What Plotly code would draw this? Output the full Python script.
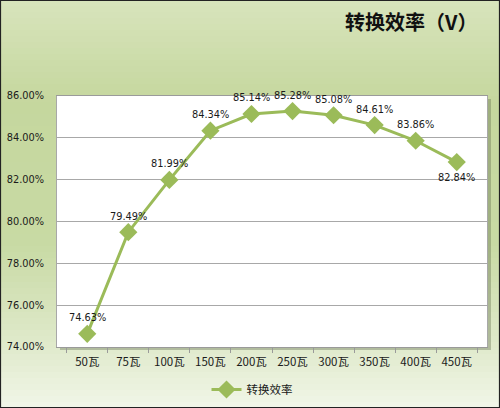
import plotly.graph_objects as go

# data
categories = ['50瓦', '75瓦', '100瓦', '150瓦', '200瓦', '250瓦', '300瓦', '350瓦', '400瓦', '450瓦']
efficiency = [0.7463, 0.7949, 0.8199, 0.8434, 0.8514, 0.8528, 0.8508, 0.8461, 0.8386, 0.8284]
label_below = [False] * 9 + [True]
series_name = '转换效率'
chart_title = '转换效率（V）'

W, H = 500, 408
ML, MR, MT, MB = 57, 13, 96, 61
PW, PH = W - ML - MR, H - MT - MB

font_cn = 'Noto Sans CJK SC'
font_num = 'DejaVu Sans'
green = '#9BBB59'


def px_x(p):
    return (p - ML) / PW


def px_y(p):
    return (H - MB - p) / PH


fig = go.Figure()
fig.add_trace(go.Scatter(
    x=categories, y=efficiency, name=series_name,
    mode='lines+markers',
    line=dict(color=green, width=3),
    marker=dict(symbol='diamond', size=14, color=green),
    cliponaxis=False,
))

# value labels
annotations = []
for cat, val, below in zip(categories, efficiency, label_below):
    annotations.append(dict(x=cat, y=val, text='{:.2%}'.format(val), showarrow=False,
                            xanchor='center', yanchor='middle', yshift=-15 if below else 16,
                            font=dict(family=font_num, size=9.8, color='#1a1a1a')))
annotations.append(dict(text='<b>' + chart_title + '</b>', xref='paper', yref='paper',
                        x=px_x(479), y=px_y(21), xanchor='right', yanchor='middle',
                        showarrow=False, font=dict(family=font_cn, size=20, color='#111111')))

# gradient background built from thin bands
stops = [(0.0, (216, 228, 188)), (0.25, (197, 215, 158)), (0.6, (200, 218, 164)),
         (0.85, (224, 234, 204)), (1.0, (241, 246, 232))]


def col_at(t):
    for (t0, c0), (t1, c1) in zip(stops, stops[1:]):
        if t0 <= t <= t1:
            f = (t - t0) / (t1 - t0)
            return 'rgb({},{},{})'.format(*[round(a + (b - a) * f) for a, b in zip(c0, c1)])
    return 'rgb(241,246,232)'


shapes = []
nb = 68
for i in range(nb):
    p0, p1 = H * i / nb, H * (i + 1) / nb + 0.6
    shapes.append(dict(type='rect', xref='paper', yref='paper', layer='below',
                       x0=px_x(0), x1=px_x(W), y0=px_y(p1), y1=px_y(p0),
                       fillcolor=col_at((i + 0.5) / nb), line=dict(width=0)))
# shadow of plot area
shapes.append(dict(type='rect', xref='paper', yref='paper', layer='below',
                   x0=px_x(ML + 3), x1=px_x(ML + PW + 4), y0=px_y(H - MB + 3), y1=px_y(MT + 3),
                   fillcolor='rgba(90,100,70,0.35)', line=dict(width=0)))
shapes.append(dict(type='rect', xref='paper', yref='paper', layer='below',
                   x0=0, x1=1, y0=0, y1=1, fillcolor='white', line=dict(width=0)))
# outer border
shapes.append(dict(type='rect', xref='paper', yref='paper',
                   x0=px_x(0.5), x1=px_x(W - 0.5), y0=px_y(H - 0.5), y1=px_y(0.5),
                   line=dict(color='#222222', width=1.2)))

fig.update_layout(
    width=W, height=H,
    margin=dict(l=ML, r=MR, t=MT, b=MB, autoexpand=False),
    paper_bgcolor='rgb(202,219,168)',
    plot_bgcolor='rgba(0,0,0,0)',
    shapes=shapes,
    annotations=annotations,
    showlegend=True,
    legend=dict(orientation='h', x=px_x(252), xanchor='center', y=px_y(375), yanchor='top',
                font=dict(family=font_cn, size=11.5, color='#1a1a1a'),
                bgcolor='rgba(0,0,0,0)'),
    xaxis=dict(type='category', tickson='boundaries', ticks='outside', ticklen=5,
               tickcolor='#9a9a9a', showline=True, linecolor='#9a9a9a', mirror=True,
               showgrid=False, automargin=False, ticklabelstandoff=4,
               tickfont=dict(family=font_cn, size=11.5, color='#1a1a1a')),
    yaxis=dict(range=[0.74, 0.86], dtick=0.02, tickformat='.2%', showgrid=True,
               gridcolor='#a8a8a8', gridwidth=1, showline=True, linecolor='#a8a8a8',
               mirror=True, zeroline=False, ticks='', automargin=False,
               ticklabelstandoff=10,
               tickfont=dict(family=font_num, size=9.8, color='#1a1a1a')),
)

fig.write_html('out.html', config={'displayModeBar': False},
               post_script="document.body.style.margin='0';")
